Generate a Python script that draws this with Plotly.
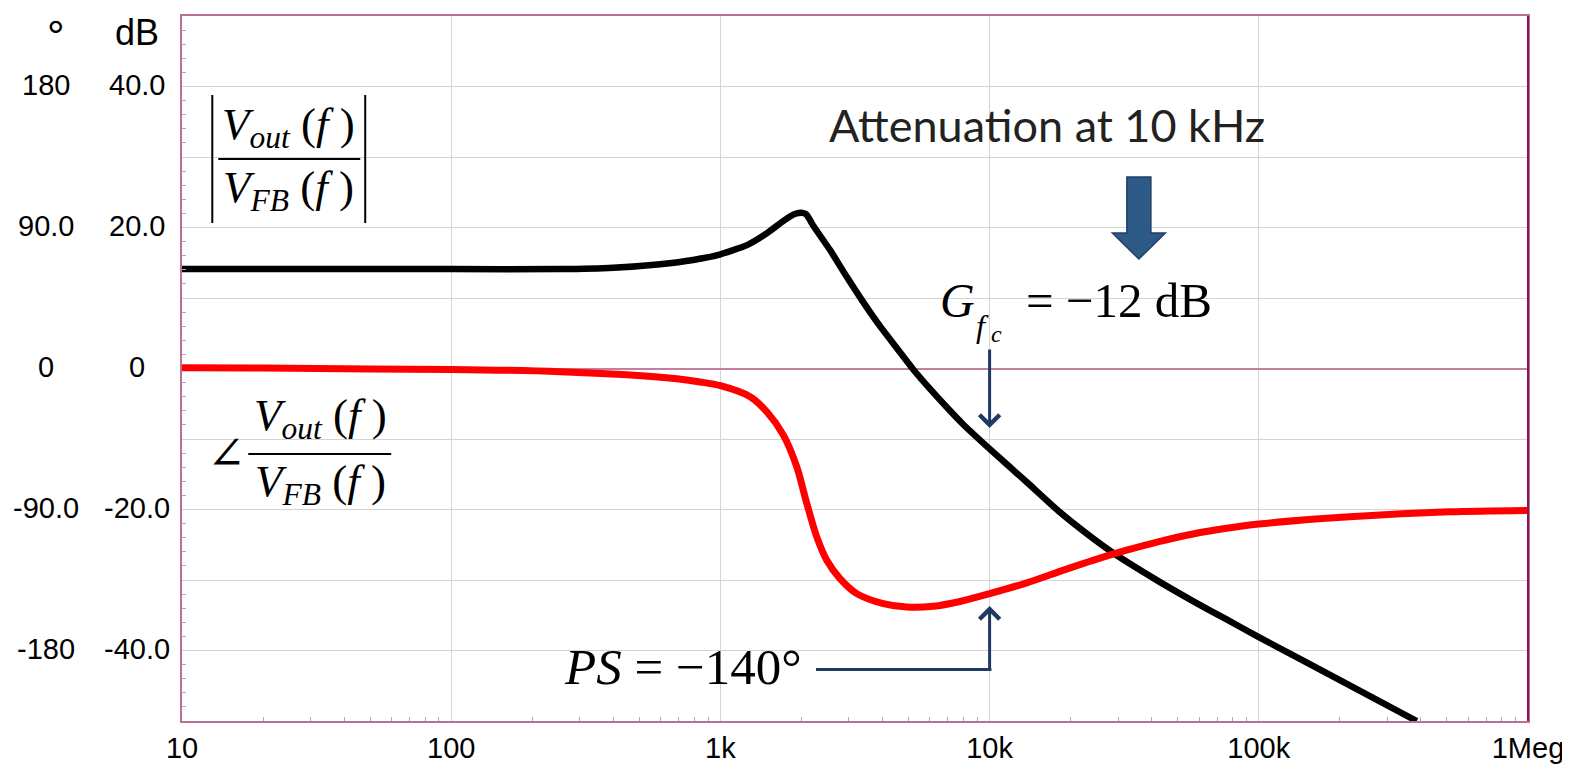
import numpy as np
import plotly.graph_objects as go

# ---------------- data ----------------
gain_freq = [10, 30, 100, 254, 400, 597, 792, 1000, 1256, 1491, 1710, 1820, 1900, 2000, 2080, 2150, 2209,
             2555, 2947, 3388, 3917, 4519, 5196, 6008, 6933, 7966, 10000, 13730, 18260, 24210,
             29650, 42940, 56930, 75920, 100000, 200000, 386000]
gain_db = [14.1, 14.1, 14.1, 14.1, 14.3, 14.8, 15.4, 16.2, 17.5, 19.2, 20.9, 21.6, 21.95, 22.1, 21.9, 21.1, 20.3,
           16.8, 13.0, 9.45, 6.0, 2.9, -0.1, -2.9, -5.5, -7.9, -11.4, -16.1, -20.4, -24.1,
           -26.5, -30.3, -33.0, -35.6, -38.1, -44.2, -50.0]

phase_freq = [10, 20, 50, 100, 254, 449, 689, 841, 1000, 1289, 1487, 1714, 1922, 2094, 2280, 2484,
              2782, 3210, 4030, 4922, 6180, 7762, 10000, 13740, 18250, 24210, 32280, 42940, 56930,
              75920, 100000, 217800, 512600, 1000000]
phase_deg = [0.5, 0.3, -0.3, -0.6, -2.0, -4.0, -6.6, -8.6, -11.0, -18.0, -27.6, -42.5, -62.8, -86.2,
             -107.5, -122.4, -134.1, -143.7, -150.1, -152.3, -151.8, -148.7, -143.7, -136.8, -129.5,
             -122.5, -116.0, -110.3, -105.6, -102.0, -99.3, -94.7, -91.5, -90.6]

x_tickvals = [10, 100, 1e3, 1e4, 1e5, 1e6]
x_ticktext = ["10", "100", "1k", "10k", "100k", "1Meg"]
db_ticks = [40, 20, 0, -20, -40]
db_labels = ["40.0", "20.0", "0", "-20.0", "-40.0"]
deg_ticks = [180, 90, 0, -90, -180]
deg_labels = ["180", "90.0", "0", "-90.0", "-180"]
mark_freq = 1e4   # 10 kHz annotation frequency

# ---------------- geometry (target plot area in window pixels) ----------------
OFF = 8                      # page body margin
W, H = 1562, 759             # figure size (fits in the 1570x767 window)
X0, X1 = 181.7, 1528.3       # plot area in window pixels
Y0, Y1 = 16.0, 721.0
ML = X0 - OFF
MR = W - (X1 - OFF)
MT = Y0 - OFF
MB = H - (Y1 - OFF)


def px(x):
    return (x - X0) / (X1 - X0)


def py(y):
    return (Y1 - y) / (Y1 - Y0)


BORDER = "#b87099"
NAVY = "#1f3864"
SERIF = "Liberation Serif, Times New Roman, serif"
SANS = "Liberation Sans, Arial, sans-serif"

fig = go.Figure()
fig.add_trace(go.Scatter(x=phase_freq, y=phase_deg, mode="lines", yaxis="y2",
                         line=dict(color="#ff0000", width=7, shape="spline", smoothing=0.8),
                         hoverinfo="skip", showlegend=False))
fig.add_trace(go.Scatter(x=gain_freq, y=gain_db, mode="lines", yaxis="y",
                         line=dict(color="#000000", width=6.5, shape="spline", smoothing=0.5),
                         hoverinfo="skip", showlegend=False))

minor_x = [k * 10 ** d for d in range(1, 6) for k in range(2, 10)]

fig.update_layout(
    width=W, height=H,
    margin=dict(l=ML, r=MR, t=MT, b=MB, pad=0, autoexpand=False),
    paper_bgcolor="white", plot_bgcolor="white",
    showlegend=False,
    xaxis=dict(type="log", range=[1, 6], tickvals=x_tickvals, ticktext=x_ticktext,
               showgrid=True, gridcolor="#d4d4d4", gridwidth=1,
               showline=True, linecolor=BORDER, linewidth=2, mirror=True,
               ticks="", tickfont=dict(family=SANS, size=29, color="#000"),
               minor=dict(tickvals=minor_x, ticks="inside", ticklen=4, tickcolor="#aaaaaa", showgrid=False),
               zeroline=False),
    yaxis=dict(range=[-50, 50], dtick=10, showgrid=True, gridcolor="#d4d4d4", gridwidth=1,
               zeroline=True, zerolinecolor="#c080a0", zerolinewidth=1.5,
               showline=True, linecolor=BORDER, linewidth=2, mirror=True,
               showticklabels=False, ticks="",
               minor=dict(dtick=2, ticks="inside", ticklen=4, tickcolor="#aaaaaa", showgrid=False)),
    yaxis2=dict(range=[-225, 225], overlaying="y", side="left", showgrid=False,
                zeroline=False, showline=False, showticklabels=False, ticks=""),
)

ann = []
# y tick labels (two columns)
for v, t in zip(db_ticks, db_labels):
    ann.append(dict(x=px(137), y=v, xref="paper", yref="y", text=t, showarrow=False, yshift=2,
                    xanchor="center", yanchor="middle", font=dict(family=SANS, size=29, color="#000")))
for v, t in zip(deg_ticks, deg_labels):
    ann.append(dict(x=px(46), y=v, xref="paper", yref="y2", text=t, showarrow=False, yshift=2,
                    xanchor="center", yanchor="middle", font=dict(family=SANS, size=29, color="#000")))
# unit headers
ann.append(dict(x=px(137), y=py(32), xref="paper", yref="paper", text="dB", showarrow=False,
                xanchor="center", yanchor="middle", font=dict(family=SANS, size=36, color="#000")))
ann.append(dict(x=px(56), y=py(36), xref="paper", yref="paper", text="°", showarrow=False,
                xanchor="center", yanchor="middle", font=dict(family=SANS, size=44, color="#000")))

# magnitude label |Vout(f)/VFB(f)|
ann.append(dict(x=px(288), y=py(127), xref="paper", yref="paper",
                text="<i>V</i><sub><i>out</i></sub> (<i>f</i> )", showarrow=False,
                xanchor="center", yanchor="middle", font=dict(family=SERIF, size=45, color="#000")))
ann.append(dict(x=px(288), y=py(190), xref="paper", yref="paper",
                text="<i>V</i><sub><i>FB</i></sub> (<i>f</i> )", showarrow=False,
                xanchor="center", yanchor="middle", font=dict(family=SERIF, size=45, color="#000")))
# phase label
ann.append(dict(x=px(226), y=py(453), xref="paper", yref="paper", text="∠", showarrow=False,
                xanchor="center", yanchor="middle", font=dict(family="DejaVu Serif", size=46, color="#000")))
ann.append(dict(x=px(320), y=py(418), xref="paper", yref="paper",
                text="<i>V</i><sub><i>out</i></sub> (<i>f</i> )", showarrow=False,
                xanchor="center", yanchor="middle", font=dict(family=SERIF, size=45, color="#000")))
ann.append(dict(x=px(320), y=py(484), xref="paper", yref="paper",
                text="<i>V</i><sub><i>FB</i></sub> (<i>f</i> )", showarrow=False,
                xanchor="center", yanchor="middle", font=dict(family=SERIF, size=45, color="#000")))

# Attenuation text
ann.append(dict(x=px(1047), y=py(125), xref="paper", yref="paper", text="Attenuation at 10 kHz",
                showarrow=False, xanchor="center", yanchor="middle",
                font=dict(family="Lato", size=45, color="#222")))
# G_fc = -12 dB
ann.append(dict(x=px(958), y=py(300), xref="paper", yref="paper", text="<i>G</i>", showarrow=False,
                xanchor="center", yanchor="middle", font=dict(family=SERIF, size=48, color="#000")))
ann.append(dict(x=px(983), y=py(326), xref="paper", yref="paper", text="<i>f</i>", showarrow=False,
                xanchor="center", yanchor="middle", font=dict(family=SERIF, size=32, color="#000")))
ann.append(dict(x=px(997), y=py(334), xref="paper", yref="paper", text="<i>c</i>", showarrow=False,
                xanchor="center", yanchor="middle", font=dict(family=SERIF, size=24, color="#000")))
ann.append(dict(x=px(1024), y=py(300), xref="paper", yref="paper", text="= −12 dB", showarrow=False,
                xanchor="left", yanchor="middle", font=dict(family=SERIF, size=49, color="#000")))
# PS = -140°
ann.append(dict(x=px(562), y=py(667), xref="paper", yref="paper", text="<i>PS</i> = −140°", showarrow=False,
                xanchor="left", yanchor="middle", font=dict(family=SERIF, size=51, color="#000")))

# thin arrows at 10 kHz
ann.append(dict(x=np.log10(mark_freq), y=py(428), xref="x", yref="paper", text="", showarrow=True,
                ax=0, ay=-80, arrowhead=4, arrowsize=1.3, arrowwidth=3, arrowcolor=NAVY, standoff=0))
ann.append(dict(x=np.log10(mark_freq), y=py(606), xref="x", yref="paper", text="", showarrow=True,
                ax=0, ay=64, arrowhead=4, arrowsize=1.3, arrowwidth=3, arrowcolor=NAVY, standoff=0))
fig.update_layout(annotations=ann)

shapes = []
# fraction bars and absolute value bars
shapes.append(dict(type="line", xref="paper", yref="paper", x0=px(218), x1=px(360), y0=py(159), y1=py(159),
                   line=dict(color="#000", width=2)))
shapes.append(dict(type="line", xref="paper", yref="paper", x0=px(212), x1=px(212), y0=py(95), y1=py(223),
                   line=dict(color="#000", width=2)))
shapes.append(dict(type="line", xref="paper", yref="paper", x0=px(365), x1=px(365), y0=py(95), y1=py(223),
                   line=dict(color="#000", width=2)))
shapes.append(dict(type="line", xref="paper", yref="paper", x0=px(248), x1=px(391), y0=py(454), y1=py(454),
                   line=dict(color="#000", width=2)))
# PS leader line
shapes.append(dict(type="line", xref="paper", yref="paper", x0=px(816), x1=px(991.5), y0=py(669.5), y1=py(669.5),
                   line=dict(color=NAVY, width=3)))
# block arrow
pts = [(1127, 177), (1151, 177), (1151, 233), (1165.5, 233), (1139, 259), (1112.5, 233), (1127, 233)]
path = "M " + " L ".join(f"{px(a):.5f},{py(b):.5f}" for a, b in pts) + " Z"
shapes.append(dict(type="path", xref="paper", yref="paper", path=path,
                   fillcolor="#2e5a87", line=dict(color="#1f3f66", width=1.5)))
# darker right border
shapes.append(dict(type="line", xref="paper", yref="paper", x0=1, x1=1, y0=0, y1=1,
                   line=dict(color="#8c1450", width=2)))
fig.update_layout(shapes=shapes)

fig.write_html("out.html")
